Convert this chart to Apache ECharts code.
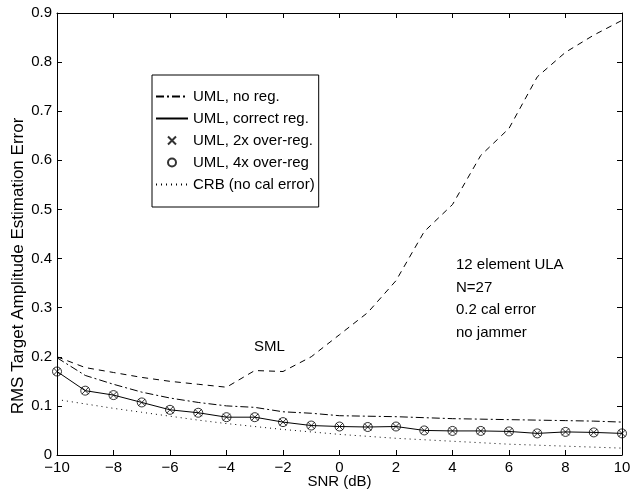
<!DOCTYPE html>
<html>
<head>
<meta charset="utf-8">
<script src="https://cdn.jsdelivr.net/npm/echarts@6/dist/echarts.min.js"></script>
<style>html,body{margin:0;padding:0;background:#fff}#c{width:643px;height:493px}</style>
</head>
<body>
<div id="c"></div>
<script>
const snr = [-10,-9,-8,-7,-6,-5,-4,-3,-2,-1,0,1,2,3,4,5,6,7,8,9,10];
const umlNoReg   = [0.198,0.162,0.144,0.128,0.116,0.107,0.100,0.097,0.088,0.085,0.080,0.079,0.078,0.076,0.074,0.073,0.072,0.071,0.070,0.069,0.067];
const umlCorrect = [0.170,0.131,0.122,0.107,0.092,0.086,0.077,0.077,0.067,0.060,0.058,0.057,0.058,0.050,0.049,0.049,0.048,0.044,0.047,0.046,0.044];
const uml2x      = [0.170,0.131,0.122,0.107,0.092,0.086,0.077,0.077,0.067,0.060,0.058,0.057,0.058,0.050,0.049,0.049,0.048,0.044,0.047,0.046,0.044];
const uml4x      = [0.170,0.131,0.122,0.107,0.092,0.086,0.077,0.077,0.067,0.060,0.058,0.057,0.058,0.050,0.049,0.049,0.048,0.044,0.047,0.046,0.044];
const crb        = [0.113,0.104,0.095,0.087,0.079,0.071,0.064,0.058,0.052,0.047,0.042,0.038,0.034,0.031,0.028,0.025,0.022,0.020,0.018,0.016,0.014];
const sml        = [0.200,0.178,0.168,0.158,0.150,0.144,0.138,0.172,0.170,0.200,0.245,0.290,0.355,0.455,0.510,0.610,0.665,0.770,0.820,0.855,0.885];
const legendNames = ['UML, no reg.','UML, correct reg.','UML, 2x over-reg.','UML, 4x over-reg','CRB (no cal error)'];
const notes = ['12 element ULA','N=27','0.2 cal error','no jammer'];
const smlLabel = 'SML';

const pairs = arr => arr.map((v,i)=>[snr[i], v]);
const FONT = 'Liberation Sans, Arial, Helvetica, sans-serif';
const FS = 15;
const chart = echarts.init(document.getElementById('c'), null, {renderer:'canvas'});
const axisCommon = {
  axisLine:{show:true, onZero:false, lineStyle:{color:'#000', width:1}},
  axisTick:{show:true, inside:true, length:5, lineStyle:{color:'#000', width:1}},
  splitLine:{show:false}
};
const hidden = {opacity:0};
chart.setOption({
  animation:false,
  backgroundColor:'#fff',
  grid:{left:57, right:21, top:13, bottom:38, containLabel:false, outerBoundsMode:'none'},
  xAxis:[
    Object.assign({type:'value', min:-10, max:10, interval:2, position:'bottom',
      name:'SNR (dB)', nameLocation:'middle', nameGap:19, nameMoveOverlap:false,
      nameTextStyle:{color:'#000', fontSize:FS, fontFamily:FONT},
      axisLabel:{color:'#000', fontSize:FS, fontFamily:FONT, margin:5,
        formatter:v=>String(v).replace('-','\u2212')}}, axisCommon),
    Object.assign({type:'value', min:-10, max:10, interval:2, position:'top',
      axisLabel:{show:false}}, axisCommon)
  ],
  yAxis:[
    Object.assign({type:'value', min:0, max:0.9, interval:0.1, position:'left',
      name:'RMS Target Amplitude Estimation Error', nameLocation:'middle', nameGap:30, nameRotate:90,
      nameMoveOverlap:false,
      nameTextStyle:{color:'#000', fontSize:17, fontFamily:FONT, padding:[0,64,0,0]},
      axisLabel:{color:'#000', fontSize:FS, fontFamily:FONT, margin:5,
        formatter:v=> v===0 ? '0' : v.toFixed(1)}}, axisCommon),
    Object.assign({type:'value', min:0, max:0.9, interval:0.1, position:'right',
      axisLabel:{show:false}}, axisCommon)
  ],
  legend:{
    show:true, orient:'vertical', left:152, top:75,
    data:[
      {name:legendNames[0], itemStyle:hidden},
      {name:legendNames[1], itemStyle:hidden},
      {name:legendNames[2]},
      {name:legendNames[3]},
      {name:legendNames[4], itemStyle:hidden}
    ],
    backgroundColor:'#fff', borderColor:'#000', borderWidth:1,
    padding:[14,4,15,3], itemGap:7, itemWidth:32, itemHeight:8,
    textStyle:{color:'#000', fontSize:FS, fontFamily:FONT},
    selectedMode:false
  },
  series:[
    {name:smlLabel, type:'line', data:pairs(sml), showSymbol:false, symbol:'none',
      itemStyle:{color:'#000'}, lineStyle:{color:'#000', width:1, type:[6,5]}, z:2},
    {name:legendNames[0], type:'line', data:pairs(umlNoReg), showSymbol:false, symbol:'none',
      itemStyle:{color:'#000'}, lineStyle:{color:'#000', width:1, type:[8,3,2,3]}, z:2},
    {name:legendNames[1], type:'line', data:pairs(umlCorrect), showSymbol:false, symbol:'none',
      itemStyle:{color:'#000'}, lineStyle:{color:'#000', width:1, type:'solid'}, z:2},
    {name:legendNames[2], type:'scatter', data:pairs(uml2x),
      symbol:'path://M0,0L10,10M10,0L0,10', symbolSize:7,
      itemStyle:{color:'rgba(0,0,0,0)', borderColor:'#000', borderWidth:1}, z:3},
    {name:legendNames[3], type:'scatter', data:pairs(uml4x),
      symbol:'circle', symbolSize:9,
      itemStyle:{color:'rgba(0,0,0,0)', borderColor:'#000', borderWidth:1}, z:3},
    {name:legendNames[4], type:'line', data:pairs(crb), showSymbol:false, symbol:'none',
      itemStyle:{color:'#000'}, lineStyle:{color:'#000', width:1, type:[1,4]}, z:2}
  ],
  graphic:[
    {type:'text', left:254, top:339, style:{text:smlLabel, fill:'#000', font:FS+'px '+FONT}},
    {type:'text', left:456, top:257, style:{text:notes[0], fill:'#000', font:FS+'px '+FONT}},
    {type:'text', left:456, top:280, style:{text:notes[1], fill:'#000', font:FS+'px '+FONT}},
    {type:'text', left:456, top:302, style:{text:notes[2], fill:'#000', font:FS+'px '+FONT}},
    {type:'text', left:456, top:325, style:{text:notes[3], fill:'#000', font:FS+'px '+FONT}}
  ]
});
</script>
</body>
</html>
